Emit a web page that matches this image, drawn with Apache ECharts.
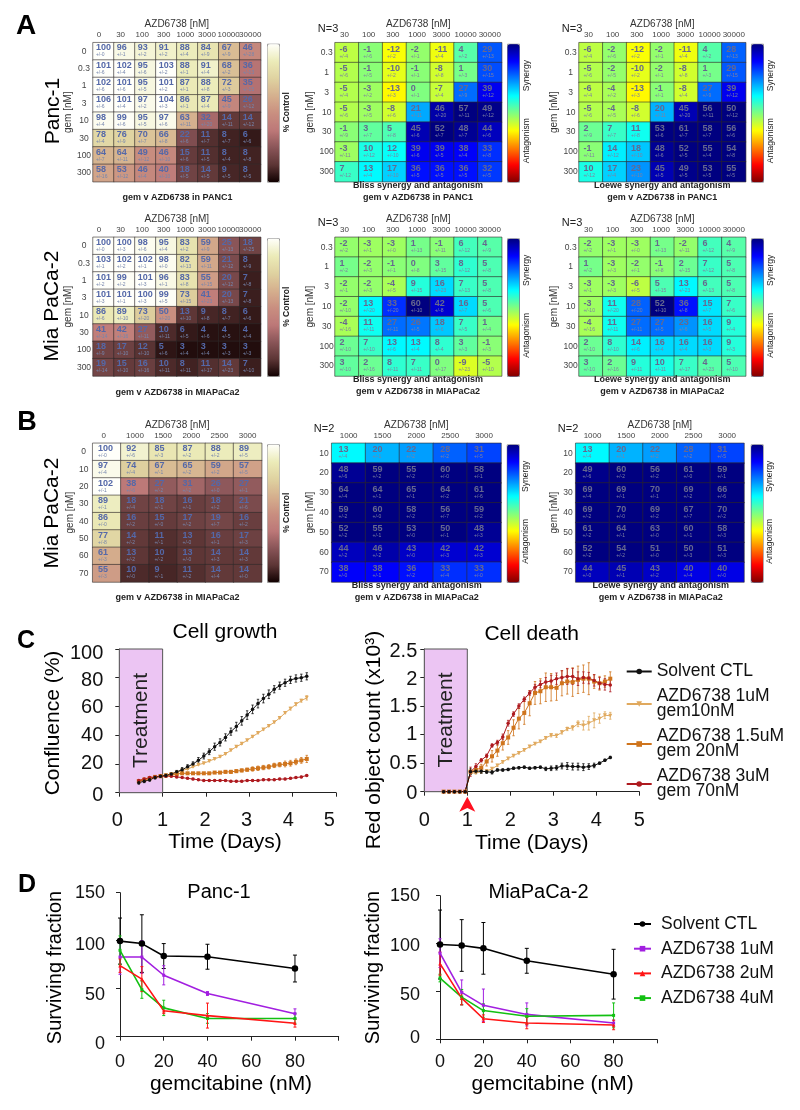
<!DOCTYPE html>
<html><head><meta charset="utf-8">
<style>html,body{margin:0;padding:0;background:#fff}#c{width:800px;height:1110px}</style>
<script src="https://cdn.jsdelivr.net/npm/echarts@6/dist/echarts.min.js"></script>
</head><body><div id="c"></div>
<script>
// ---------- heat-map categories
const azdA = ['0','30','100','300','1000','3000','10000','30000'];
const gemA = ['0','0.3','1','3','10','30','100','300'];
const azdB = ['0','1000','1500','2000','2500','3000'];
const gemB = ['0','10','20','30','40','50','60','70'];
// ---------- Panc-1
const pancGrowth = [[100,96,93,91,88,84,67,46],[101,102,95,103,88,91,68,36],[102,101,95,101,87,88,72,35],[106,101,97,104,86,87,45,26],[98,99,95,97,63,32,14,14],[78,76,70,66,22,11,8,6],[64,64,49,46,15,11,8,8],[58,53,46,40,18,14,9,8]];
const pancErr = [[0,1,2,2,4,9,9,28],[6,4,6,2,1,4,2,13],[6,6,5,2,1,8,3,15],[6,4,2,3,1,4,9,12],[4,6,5,6,11,20,11,12],[4,9,7,8,6,7,7,6],[7,11,12,10,6,5,4,8],[16,12,4,10,5,5,5,5]];
const pancBliss = [[-6,-1,-12,-2,-11,4,29],[-5,-1,-10,-1,-8,1,30],[-5,-3,-13,0,-7,27,39],[-5,-3,-8,21,46,57,49],[-1,3,5,45,52,48,44],[-3,10,12,39,39,38,33],[7,13,17,36,36,36,32]];
const pancLoewe = [[-6,-2,-12,-2,-11,4,28],[-5,-2,-10,-2,-8,1,29],[-6,-4,-13,-1,-8,27,39],[-5,-4,-8,20,45,56,50],[2,7,11,53,61,58,56],[-1,14,18,48,52,55,54],[10,17,23,45,49,53,55]];
// ---------- MiaPaCa-2, wide range
const miaGrowth = [[100,100,98,95,83,59,25,18],[103,102,102,98,82,59,21,8],[101,99,101,96,83,55,20,7],[101,101,100,99,73,41,20,7],[86,89,73,50,13,9,8,6],[41,42,27,10,6,4,4,4],[18,17,12,5,3,3,3,3],[19,15,16,10,8,11,14,7]];
const miaErr = [[0,3,6,4,2,9,13,25],[1,2,1,0,13,11,12,9],[2,2,3,1,8,15,12,8],[3,1,3,5,15,23,13,8],[6,10,20,20,10,8,7,6],[14,16,11,11,5,6,5,4],[9,10,10,6,4,4,3,3],[14,10,16,11,11,17,23,10]];
const miaBliss = [[-2,-3,-3,1,-1,6,4],[1,-2,-1,0,3,8,5],[-2,-2,-4,9,16,7,5],[-2,13,33,60,42,16,5],[-4,11,27,26,18,7,1],[2,7,13,13,8,3,-1],[3,2,8,7,0,-9,-5]];
const miaLoewe = [[-2,-3,-3,1,-2,6,4],[1,-3,-2,-1,2,7,5],[-3,-3,-6,5,13,6,5],[-3,11,28,52,36,15,7],[-4,11,27,27,23,16,9],[2,8,14,16,16,16,9],[3,2,9,10,7,4,5]];
// ---------- MiaPaCa-2, narrow range (B)
const narrowGrowth = [[100,92,85,87,88,89],[97,74,67,65,59,57],[102,38,27,31,26,27],[89,18,18,16,18,21],[86,16,15,17,19,16],[77,14,11,13,16,17],[61,13,10,13,14,14],[55,10,9,11,14,14]];
const narrowErr = [[0,6,3,2,2,5],[4,4,1,2,2,5],[1,6,2,2,0,1],[1,4,1,1,2,6],[0,2,0,2,7,2],[8,2,1,0,1,3],[3,2,2,0,3,3],[3,0,1,2,4,0]];
const narrowBliss = [[13,20,22,28,31],[48,59,55,60,58],[64,64,65,64,61],[59,60,58,56,59],[52,55,53,50,48],[44,46,43,42,42],[38,38,36,33,33]];
const narrowLoewe = [[13,20,22,28,31],[49,60,56,61,59],[69,69,70,69,66],[69,70,69,67,70],[61,64,63,60,58],[52,54,51,50,51],[44,45,43,40,40]];
// ---------- C: time course
const days = [0.45,0.575,0.7,0.825,0.95,1.075,1.2,1.325,1.45,1.575,1.7,1.825,1.95,2.075,2.2,2.325,2.45,2.575,2.7,2.825,2.95,3.075,3.2,3.325,3.45,3.575,3.7,3.825,3.95,4.075,4.2,4.325];
const growCtl = [7,8,9,10.5,11.5,12,13,14.5,16,18,20,22.5,25.5,28.5,32,35,38.5,42.5,46,50,54,58,62,65.5,68.5,72,74.5,76.5,78.5,79.5,80,81];
const growLow = [8,9,10,11,11.5,12,13,14,15.5,16.5,18,19.5,20.5,22,23.5,25,27,29.5,32,34,36.5,39,41.5,44,46.5,49,52,55.5,58.5,61.5,64,66];
const growMid = [8,9,10,11,11.5,12,12.5,13,13.5,13.5,13.5,13.5,13.5,13.5,14,14,14.5,14.5,15,15.5,16,16.5,17,17.5,18,19,19.5,20,20.5,21.5,22.5,23.5];
const growHigh = [8.5,9.5,10.5,11,11.5,11.5,11.5,11,10.5,10,9.5,9,8.5,8.5,8.5,8.5,8.5,8,8,8,8.5,8.5,8.5,9,9,9,9.5,9.5,10,10.5,11,12];
const growCtlErr = [1,1,1,1,1,1,1,1,1.5,1.5,1.5,2,2,2,2.5,2.5,2.5,2.5,3,3,3,3,3,3,3,2.5,2.5,2.5,2.5,2.5,2.5,2.5];
const growLowErr = [.5,.5,.5,.5,.5,.5,.5,.5,.5,.5,.5,.5,.5,.5,.5,.5,.5,.5,.5,.5,.5,.5,.5,.5,.5,.5,.5,.5,1,1,1,1.5];
const growMidErr = [.5,.5,.5,.5,.5,.5,.5,.5,.5,.5,.5,.5,.5,.5,.5,.5,1,1,1,1,1,1.5,1.5,1.5,1.5,1.5,1.5,2,2,2,2,2.5];
const growHighErr = [.5,.5,.5,.5,.5,.5,.5,.5,.5,.5,.5,.5,.5,.5,.5,.5,.5,.5,.5,.5,.5,.5,.5,.5,.5,.5,.5,.5,.5,.5,.5,.5];
const deathCtl = [0,0,0,0,0,.35,.36,.36,.35,.34,.38,.38,.39,.41,.42,.43,.41,.42,.43,.40,.41,.42,.45,.45,.44,.44,.43,.44,.46,.50,.55,.60];
const deathLow = [0,0,0,0,0,.33,.33,.35,.36,.40,.46,.52,.58,.63,.68,.73,.79,.84,.88,.94,.99,.98,1.04,1.10,1.12,1.19,1.16,1.20,1.25,1.28,1.34,1.33];
const deathMid = [0,0,0,0,0,.35,.38,.42,.53,.62,.72,.85,.95,1.12,1.28,1.38,1.55,1.73,1.76,1.83,1.83,1.82,1.90,1.93,1.92,1.96,1.98,1.98,1.93,1.90,1.93,1.98];
const deathHigh = [0,0,0,0,0,.35,.44,.55,.63,.81,.86,.96,1.20,1.36,1.50,1.62,1.73,1.83,1.88,1.92,1.94,1.98,2.0,2.02,2.02,1.98,2.0,1.99,1.95,1.90,1.88,1.87];
const deathCtlErr = [0,0,0,0,0,.05,.04,.04,.03,.03,.02,.02,.02,.02,.02,.02,.02,.02,.02,.03,.04,.04,.05,.06,.06,.06,.06,.05,.04,.02,.02,.02];
const deathLowErr = [0,0,0,0,0,.03,.02,.02,.02,.02,.02,.02,.02,.02,.02,.02,.02,.02,.02,.02,.03,.03,.03,.03,.04,.05,.08,.12,.13,.08,.06,.06];
const deathMidErr = [0,0,0,0,0,.03,.05,.06,.08,.10,.10,.12,.12,.14,.18,.20,.22,.20,.22,.25,.24,.22,.22,.22,.25,.24,.24,.28,.12,.12,.10,.12];
const deathHighErr = [0,0,0,0,0,.08,.05,.03,.03,.03,.04,.05,.05,.04,.04,.04,.04,.05,.06,.08,.10,.10,.12,.14,.14,.12,.10,.10,.10,.10,.10,.12];
const treatmentDays = [0,1];
const addedAt = 1;
// ---------- D: survival
const gemDose = [0,10,20,40,80];
const pancCtl = [99.6,97,84,83.3,71], pancCtlErr = [24,30,13,13,14];
const panc1uM = [83,83,64,45,24], panc1uMErr = [18,17,10,2,5];
const panc2uM = [74,60,27,22,14], panc2uMErr = [7,13,3,13,4];
const panc4uM = [90,49,30,19,19], panc4uMErr = [15,9,8,5,5];
const miaCtl = [99,98,95,82,68], miaCtlErr = [36,27,27,13,26];
const mia1uM = [90,49,35.5,26,17], mia1uMErr = [15,13,17,12,3];
const mia2uM = [79,43,21.5,17,15], mia2uMErr = [12,7,4,6,5];
const mia4uM = [64,44,30,24,25], mia4uMErr = [4,8,7,8,13];

const FONT = 'Liberation Sans';
const pinkMap = ['#100000','#5c3535','#8a5558','#bd7878','#c98f80','#d5b08e','#dfd2a0','#ebebb8','#fffffa'];
const jetMap = ['#800000','#ff0000','#ff8000','#ffff00','#80ff80','#00ffff','#0080ff','#0000ff','#000080'];

const grids=[], xAxes=[], yAxes=[], series=[], vms=[], gfx=[], legends=[];
function txt(x,y,s,size,o){o=o||{};
  gfx.push({type:'text',x,y,rotation:o.rot?Math.PI/2:0,silent:true,z:20,style:{text:s,x:0,y:0,fill:o.color||'#000',
    font:(o.bold?'bold ':'')+size+'px "'+FONT+'"',textAlign:'center',textVerticalAlign:'middle',align:'center',verticalAlign:'middle'}});}

function shifted(shift){ // tick-label offset in px, moves label left
  const rich={}; for(let i=0;i<12;i++) rich['a'+i]={padding:[0,2*shift(i),0,0],fontFamily:FONT};
  return {formatter:(v,i)=>'{a'+i+'|'+v+'}',rich};
}
function shiftedY(list,size){ // tick-label offset in px, moves label down (list from the axis origin upward)
  const rich={}; list.forEach((s,i)=>{rich['b'+i]={padding:s>=0?[2*s,0,0,0]:[0,0,-2*s,0],fontFamily:FONT,fontSize:size,color:'#111'};});
  return {formatter:(v,i)=>'{b'+i+'|'+v+'}',rich};
}
function heat(p){
  const gi=grids.length;
  grids.push({left:p.x,top:p.y,width:p.w,height:p.h,show:false});
  const lab=p.shift?shifted(p.shift):{};
  xAxes.push({type:'category',gridIndex:gi,position:'top',data:p.xs,name:'AZD6738 [nM]',nameLocation:'middle',nameGap:18,
    nameTextStyle:{fontFamily:FONT,fontSize:10,color:'#333',verticalAlign:'middle'},
    axisLine:{show:false},axisTick:{show:false},splitLine:{show:false},
    axisLabel:Object.assign({interval:0,hideOverlap:false,margin:4,fontFamily:FONT,fontSize:8,color:'#444'},lab)});
  yAxes.push({type:'category',gridIndex:gi,inverse:true,data:p.ys,name:'gem [nM]',nameLocation:'middle',nameGap:p.nameGap,nameRotate:90,
    nameTextStyle:{fontFamily:FONT,fontSize:10,color:'#333',verticalAlign:'middle'},
    axisLine:{show:false},axisTick:{show:false},splitLine:{show:false},
    axisLabel:{interval:0,margin:p.margin,align:'center',fontFamily:FONT,fontSize:8.5,color:'#444'}});
  const d=[]; p.v.forEach((r,j)=>r.forEach((v,i)=>d.push([i,j,v,p.e[j+p.eRow][i+p.eCol]])));
  const si=series.length;
  series.push({type:'heatmap',xAxisIndex:gi,yAxisIndex:gi,data:d,silent:true,progressive:0,
    itemStyle:{borderColor:'rgba(45,40,40,0.85)',borderWidth:0.7},
    label:{show:true,position:'insideLeft',distance:p.pad,offset:[0,-0.5],formatter:o=>'{v|'+o.data[2]+'}\n{e|+/-'+o.data[3]+'}',
      rich:{v:{fontFamily:FONT,fontWeight:'bold',fontSize:9,lineHeight:8,color:p.c1,align:'left'},
            e:{fontFamily:FONT,fontSize:5,lineHeight:6,color:p.c2,align:'left'}}}});
  vms.push({type:'continuous',seriesIndex:si,dimension:2,min:p.min,max:p.max,left:p.cbx,top:p.y+1,itemWidth:12,itemHeight:p.h-1,
    inRange:{color:p.map},outOfRange:{color:p.map[p.map.length-1]},calculable:false,hoverLink:false,padding:0,borderColor:'#999',borderWidth:1,text:null,showLabel:false});
}
const slope=i=>4.5*(1-i/7), slope7=i=>2.5*(1-i/6);
const rows=[{y:42.7,h:139},{y:237.3,h:138.7},{y:443.3,h:138.7}];
const COL1C=['#5468a8','#7686ad'], SYNC=['#66688e','#7f82a0'];
[[pancGrowth,pancErr],[miaGrowth,miaErr]].forEach((s,k)=>heat({x:93,y:rows[k].y,w:167.7,h:rows[k].h,xs:azdA,ys:gemA,v:s[0],e:s[1],eRow:0,eCol:0,pad:3.5,c1:COL1C[0],c2:COL1C[1],
  min:0,max:100,map:pinkMap,cbx:267,margin:9,nameGap:21.5,shift:slope}));
[[pancBliss,pancErr,335,507,23,'Bliss'],[pancLoewe,pancErr,579,751,22.3,'Loewe']].forEach(s=>heat({x:s[2],y:rows[0].y,w:166.7,h:rows[0].h,xs:azdA.slice(1),ys:gemA.slice(1),v:s[0],e:s[1],eRow:1,eCol:1,pad:5,c1:SYNC[0],c2:SYNC[1],min:-50,max:50,map:jetMap,cbx:s[3],margin:8.3,nameGap:s[4],shift:slope7}));
[[miaBliss,miaErr,335,507,23],[miaLoewe,miaErr,579,751,22.3]].forEach(s=>heat({x:s[2],y:rows[1].y,w:166.7,h:rows[1].h,xs:azdA.slice(1),ys:gemA.slice(1),v:s[0],e:s[1],eRow:1,eCol:1,pad:5,c1:SYNC[0],c2:SYNC[1],min:-50,max:50,map:jetMap,cbx:s[3],margin:8.3,nameGap:s[4],shift:slope7}));
heat({x:92.7,y:rows[2].y,w:169,h:rows[2].h,xs:azdB,ys:gemB,v:narrowGrowth,e:narrowErr,eRow:0,eCol:0,pad:6,c1:COL1C[0],c2:COL1C[1],min:0,max:100,map:pinkMap,cbx:267,margin:9,nameGap:17.7,shift:i=>[3,0,0,0,0,0][i]||0});
[[narrowBliss,331.7,169.3,506.7,18.7],[narrowLoewe,575.7,168.3,750.7,18]].forEach(s=>heat({x:s[1],y:rows[2].y,w:s[2],h:rows[2].h,xs:azdB.slice(1),ys:gemB.slice(1),v:s[0],e:narrowErr,eRow:1,eCol:1,pad:7.5,c1:SYNC[0],c2:SYNC[1],min:-50,max:50,map:jetMap,cbx:s[3],margin:7.7,nameGap:s[4]}));

// heat-map annotations
txt(26,26,'A',28,{bold:true}); txt(27,423,'B',27,{bold:true}); txt(26,641,'C',25,{bold:true}); txt(27,885,'D',25,{bold:true});
txt(53,111,'Panc-1',21,{rot:true}); txt(52,306,'Mia PaCa-2',21,{rot:true}); txt(52,513,'Mia PaCa-2',21,{rot:true});
rows.forEach(r=>txt(287,r.y+69.5,'% Control',8.5,{rot:true,bold:true,color:'#222'}));
[[526.7,0],[770.7,0],[526.7,1],[770.7,1],[525.7,2],[769.3,2]].forEach(a=>{const t=rows[a[1]].y;
  txt(a[0],t+33,'Synergy',8.5,{rot:true,color:'#222'}); txt(a[0],t+98,'Antagonism',8.5,{rot:true,color:'#222'});});
[[328,29,'N=3'],[572,29,'N=3'],[328,222.7,'N=3'],[572,222.7,'N=3'],[324,429,'N=2'],[568,429,'N=2']].forEach(a=>txt(a[0],a[1],a[2],11,{color:'#222'}));
txt(177.5,197.7,'gem v AZD6738 in PANC1',9,{bold:true,color:'#222'});
txt(177.5,392.3,'gem v AZD6738 in MIAPaCa2',9,{bold:true,color:'#222'});
txt(177.5,597.3,'gem v AZD6738 in MIAPaCa2',9,{bold:true,color:'#222'});
[[418,185.7,197.3,'Bliss','PANC1'],[662.3,185.7,197.3,'Loewe','PANC1'],[418,380,391.7,'Bliss','MIAPaCa2'],[662.3,380,391.7,'Loewe','MIAPaCa2'],[416.7,585.7,597.7,'Bliss','MIAPaCa2'],[660.7,585.7,597.7,'Loewe','MIAPaCa2']].forEach(a=>{
  txt(a[0],a[1],a[3]+' synergy and antagonism',9,{bold:true,color:'#222'});
  txt(a[0],a[2],'gem v AZD6738 in '+a[4],9,{bold:true,color:'#222'});});

// ---------- line charts
function lineGrid(g){
  const gi=grids.length;
  grids.push({left:g.x,top:g.y,width:g.w,height:g.h,show:false});
  const common={axisLine:{show:true,onZero:false,lineStyle:{color:'#222',width:1}},axisTick:{show:true,length:4,lineStyle:{color:'#222'}},splitLine:{show:false}};
  xAxes.push(Object.assign({type:'value',gridIndex:gi,min:g.xr[0],max:g.xr[1],interval:g.xr[2],
    axisLabel:Object.assign({margin:g.xm,fontFamily:FONT,fontSize:g.fs,color:'#111'},g.xshift?shifted(g.xshift):{},g.xfmt?{formatter:g.xfmt}:{})},common));
  yAxes.push(Object.assign({type:'value',gridIndex:gi,min:0,max:g.yr[0],interval:g.yr[1],
    axisLabel:Object.assign({margin:g.ym,fontFamily:FONT,fontSize:g.fs,color:'#111'},shiftedY(g.yshift,g.fs))},common));
  return gi;
}
function zip(xs,ys,es){return xs.map((x,i)=>es?[x,ys[i],es[i]]:[x,ys[i]]);}
function errBars(gi,xs,ys,es,color,cap,lw){
  series.push({type:'custom',xAxisIndex:gi,yAxisIndex:gi,silent:true,z:2,clip:false,data:zip(xs,ys,es),encode:{x:0,y:1},
    renderItem:(pm,api)=>{
      const x=api.value(0),y=api.value(1),e=api.value(2);
      if(!e) return null;
      const a=api.coord([x,y+e]),b=api.coord([x,y-e]);
      const st={stroke:color,lineWidth:lw,fill:null};
      return {type:'group',children:[
        {type:'line',shape:{x1:a[0],y1:a[1],x2:b[0],y2:b[1]},style:st},
        {type:'line',shape:{x1:a[0]-cap,y1:a[1],x2:a[0]+cap,y2:a[1]},style:st},
        {type:'line',shape:{x1:b[0]-cap,y1:b[1],x2:b[0]+cap,y2:b[1]},style:st}]};
    }});
}
function line(gi,name,xs,ys,color,sym,size,lw,extra){
  series.push(Object.assign({type:'line',name,xAxisIndex:gi,yAxisIndex:gi,data:zip(xs,ys),symbol:sym,symbolSize:size,showSymbol:true,silent:true,z:3,
    itemStyle:{color},lineStyle:{color,width:lw}},extra||{}));
}
const TAN='#e0a95e', ORG='#cf741c', DRED='#ae1a1f';
const namesC=['Solvent CTL','AZD6738 1uM\ngem10nM','AZD6738 1.5uM\ngem 20nM','AZD6738 3uM\ngem 70nM'];
function treat(top){return {markArea:{silent:true,z:1,itemStyle:{color:'#ecc5f3',borderColor:'#555',borderWidth:1},data:[[{coord:[treatmentDays[0],0]},{coord:[treatmentDays[1],top]}]]}};}
const gC1=lineGrid({x:119.3,y:649,w:216.7,h:143.7,xr:[0,5,1],yr:[100,20],fs:20,xm:18,ym:16,yshift:[2.3,0,0,1,2.3,4.3],xshift:i=>[2,0,1,2.7,4.3,6.7][i]||0});
const gC2=lineGrid({x:424.3,y:649,w:215,h:142.7,xr:[0,5,1],yr:[2.5,0.5],fs:20,xm:19,ym:7,yshift:[1.7,0.3,0.3,0.7,2,2.7]});
[[gC1,[growLow,growMid,growHigh,growCtl],[growLowErr,growMidErr,growHighErr,growCtlErr],100],[gC2,[deathLow,deathMid,deathHigh,deathCtl],[deathLowErr,deathMidErr,deathHighErr,deathCtlErr],2.5]].forEach(s=>{
  const cols=[TAN,ORG,DRED,'#111'];
  s[1].forEach((ys,i)=>errBars(s[0],days,ys,s[2][i],cols[i],1.2,0.8));
  line(s[0],namesC[1],days,s[1][0],TAN,'triangle',4,1,Object.assign({symbolRotate:180},treat(s[3])));
  line(s[0],namesC[2],days,s[1][1],ORG,'rect',4,1);
  line(s[0],namesC[3],days,s[1][2],DRED,'circle',3.5,1);
  line(s[0],namesC[0],days,s[1][3],'#111','circle',3.5,1);
});
// red arrow at the point of treatment
series[series.length-1].markPoint={silent:true,symbol:'arrow',symbolSize:[12,15],symbolOffset:[0,5],itemStyle:{color:'#ff1020'},label:{show:false},data:[{coord:[addedAt,0]}]};
legends.push({data:namesC,orient:'vertical',left:625.7,top:662.5,itemWidth:25,itemHeight:7,itemGap:7,selectedMode:false,padding:0,
  textStyle:{fontFamily:FONT,fontSize:17.5,lineHeight:15,color:'#111'}});

const namesD=['Solvent CTL ','AZD6738 1uM','AZD6738 2uM','AZD6738 4uM'];
const PUR='#a21fe0', RED='#ff1414', GRN='#12c012';
const noTop=v=>v===100?'':String(v);
const gD1=lineGrid({x:120,y:892.7,w:218.7,h:144,xr:[0,100,20],yr:[150,50],fs:18,xm:16,ym:15,yshift:[7,6,4,0],xfmt:noTop});
const gD2=lineGrid({x:440,y:895.7,w:217,h:143.6,xr:[0,100,20],yr:[150,50],fs:18,xm:14,ym:20,yshift:[-1,3.7,2.7,0],xfmt:noTop});
[[gD1,[pancCtl,panc1uM,panc2uM,panc4uM],[pancCtlErr,panc1uMErr,panc2uMErr,panc4uMErr]],[gD2,[miaCtl,mia1uM,mia2uM,mia4uM],[miaCtlErr,mia1uMErr,mia2uMErr,mia4uMErr]]].forEach(s=>{
  const cols=['#000',PUR,RED,GRN], order=[0,1,3,2];
  order.forEach(i=>errBars(s[0],gemDose,s[1][i],s[2][i],cols[i],i?1.5:2,1));
  line(s[0],namesD[0],gemDose,s[1][0],'#000','circle',6.5,1.6);
  line(s[0],namesD[1],gemDose,s[1][1],PUR,'rect',3,1.6);
  line(s[0],namesD[3],gemDose,s[1][3],GRN,'rect',3,1.6);
  line(s[0],namesD[2],gemDose,s[1][2],RED,'triangle',3.5,1.6);
});
legends.push({data:namesD,orient:'vertical',left:633,top:915,itemWidth:17,itemHeight:7,itemGap:6.7,selectedMode:false,padding:0,
  textStyle:{fontFamily:FONT,fontSize:17.5,lineHeight:15,color:'#111',padding:[0,0,0,5]}});

// line-chart texts
txt(225,632.7,'Cell growth',21); txt(531.7,634,'Cell death',21);
txt(141.7,720.5,'Treatment',21,{rot:true,color:'#222'}); txt(446,720,'Treatment',21,{rot:true,color:'#222'});
txt(53,723,'Confluence (%)',21,{rot:true}); txt(374,740,'Red object count (x10³)',21,{rot:true});
txt(225,842.7,'Time (Days)',21); txt(531.7,843,'Time (Days)',21);
txt(219,892,'Panc-1',20); txt(538.5,892,'MiaPaCa-2',20);
txt(55,967.5,'Surviving fraction',20,{rot:true}); txt(373,967.5,'Surviving fraction',20,{rot:true});
txt(231,1084,'gemcitabine (nM)',21); txt(552.6,1084,'gemcitabine (nM)',21);

const chart=echarts.init(document.getElementById('c'),null,{renderer:'canvas'});
chart.setOption({animation:false,backgroundColor:'#fff',textStyle:{fontFamily:FONT},grid:grids,xAxis:xAxes,yAxis:yAxes,series,visualMap:vms,legend:legends,graphic:gfx});
</script></body></html>
